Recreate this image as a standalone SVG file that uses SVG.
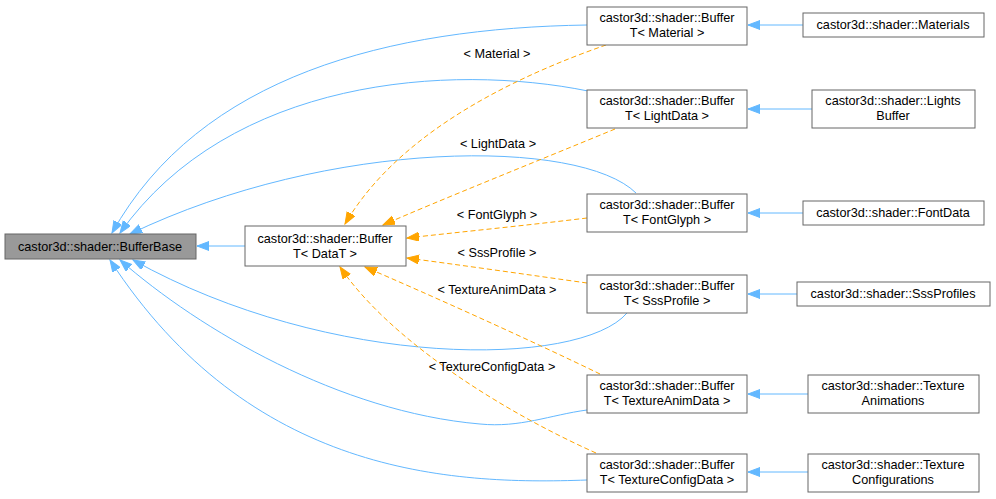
<svg xmlns="http://www.w3.org/2000/svg" width="996" height="499" viewBox="0 0 996 499">
<defs>
<style>
.n rect{fill:#ffffff;stroke:#666666;stroke-width:1}
.n text,.lbl{font-family:"Liberation Sans",Arial,sans-serif;font-size:12.7px;fill:#000000;text-anchor:middle}
.b{fill:none;stroke:#63b8ff;stroke-width:1}
.o{fill:none;stroke:#ffa500;stroke-width:1;stroke-dasharray:5,3}
</style>
<marker id="ab" markerUnits="userSpaceOnUse" markerWidth="13" markerHeight="10" refX="12" refY="4.5" orient="auto"><path d="M0,0 L12,4.5 L0,9 z" fill="#63b8ff" stroke="#63b8ff"/></marker>
<marker id="ao" markerUnits="userSpaceOnUse" markerWidth="13" markerHeight="10" refX="12" refY="4.5" orient="auto"><path d="M0,0 L12,4.5 L0,9 z" fill="#ffa500" stroke="#ffa500"/></marker>
</defs>
<rect width="996" height="499" fill="#ffffff"/>
<g id="edges">
<path class="b" d="M245,246 L197,246" marker-end="url(#ab)"/>
<path class="b" d="M587,25 C390,28 200,75 112,233" marker-end="url(#ab)"/>
<path class="b" d="M588,91 C450,63 230,78 120,233" marker-end="url(#ab)"/>
<path class="b" d="M636,193 C580,138 330,138 130,234" marker-end="url(#ab)"/>
<path class="b" d="M627,313 C580,368 330,370 133,260" marker-end="url(#ab)"/>
<path class="b" d="M587,410 C550,415 520,428 480,424 C340,412 200,330 120,260" marker-end="url(#ab)"/>
<path class="b" d="M587,480 C450,485 250,475 110,260" marker-end="url(#ab)"/>
<path class="o" d="M606,45 C520,75 400,130 345,224" marker-end="url(#ao)"/>
<path class="o" d="M615,129 C540,160 440,200 383,225" marker-end="url(#ao)"/>
<path class="o" d="M587,218 C530,225 460,232 407,238" marker-end="url(#ao)"/>
<path class="o" d="M587,283 C530,275 460,265 407,258" marker-end="url(#ao)"/>
<path class="o" d="M600,374 C530,340 430,295 365,267" marker-end="url(#ao)"/>
<path class="o" d="M596,453 C500,410 390,340 340,267" marker-end="url(#ao)"/>
<path class="b" d="M803,25 L748,25" marker-end="url(#ab)"/>
<path class="b" d="M812,109 L748,109" marker-end="url(#ab)"/>
<path class="b" d="M803,213 L748,213" marker-end="url(#ab)"/>
<path class="b" d="M797,294 L748,294" marker-end="url(#ab)"/>
<path class="b" d="M808,394 L748,394" marker-end="url(#ab)"/>
<path class="b" d="M808,472 L748,472" marker-end="url(#ab)"/>
<text class="lbl" x="497" y="58">&lt; Material &gt;</text>
<text class="lbl" x="498" y="148">&lt; LightData &gt;</text>
<text class="lbl" x="497" y="219">&lt; FontGlyph &gt;</text>
<text class="lbl" x="497" y="257">&lt; SssProfile &gt;</text>
<text class="lbl" x="497" y="294">&lt; TextureAnimData &gt;</text>
<text class="lbl" x="492" y="371">&lt; TextureConfigData &gt;</text>
</g>
<g id="BufferBase" class="n"><rect x="5" y="234" width="191" height="25" style="fill:#999999"/><text x="100" y="251">castor3d::shader::BufferBase</text></g>
<g id="BufferT_DataT" class="n"><rect x="245" y="226" width="161" height="40"/><text x="325" y="243">castor3d::shader::Buffer</text><text x="325" y="258">T&lt; DataT &gt;</text></g>
<g id="BufferT_Material" class="n"><rect x="587" y="7" width="160" height="38"/><text x="667" y="22">castor3d::shader::Buffer</text><text x="667" y="37">T&lt; Material &gt;</text></g>
<g id="BufferT_LightData" class="n"><rect x="587" y="90" width="160" height="38"/><text x="667" y="105">castor3d::shader::Buffer</text><text x="667" y="120">T&lt; LightData &gt;</text></g>
<g id="BufferT_FontGlyph" class="n"><rect x="587" y="194" width="160" height="38"/><text x="667" y="209">castor3d::shader::Buffer</text><text x="667" y="224">T&lt; FontGlyph &gt;</text></g>
<g id="BufferT_SssProfile" class="n"><rect x="587" y="275" width="160" height="38"/><text x="667" y="290">castor3d::shader::Buffer</text><text x="667" y="305">T&lt; SssProfile &gt;</text></g>
<g id="BufferT_TextureAnimData" class="n"><rect x="587" y="375" width="160" height="38"/><text x="667" y="390">castor3d::shader::Buffer</text><text x="667" y="405">T&lt; TextureAnimData &gt;</text></g>
<g id="BufferT_TextureConfigData" class="n"><rect x="587" y="454" width="160" height="38"/><text x="667" y="469">castor3d::shader::Buffer</text><text x="667" y="484">T&lt; TextureConfigData &gt;</text></g>
<g id="Materials" class="n"><rect x="803" y="13" width="181" height="24"/><text x="893" y="29">castor3d::shader::Materials</text></g>
<g id="LightsBuffer" class="n"><rect x="812" y="90" width="163" height="38"/><text x="893" y="105">castor3d::shader::Lights</text><text x="893" y="120">Buffer</text></g>
<g id="FontData" class="n"><rect x="803" y="201" width="181" height="24"/><text x="893" y="217">castor3d::shader::FontData</text></g>
<g id="SssProfiles" class="n"><rect x="797" y="282" width="193" height="24"/><text x="893" y="298">castor3d::shader::SssProfiles</text></g>
<g id="TextureAnimations" class="n"><rect x="808" y="375" width="171" height="38"/><text x="893" y="390">castor3d::shader::Texture</text><text x="893" y="405">Animations</text></g>
<g id="TextureConfigurations" class="n"><rect x="808" y="454" width="171" height="38"/><text x="893" y="469">castor3d::shader::Texture</text><text x="893" y="484">Configurations</text></g>
</svg>
